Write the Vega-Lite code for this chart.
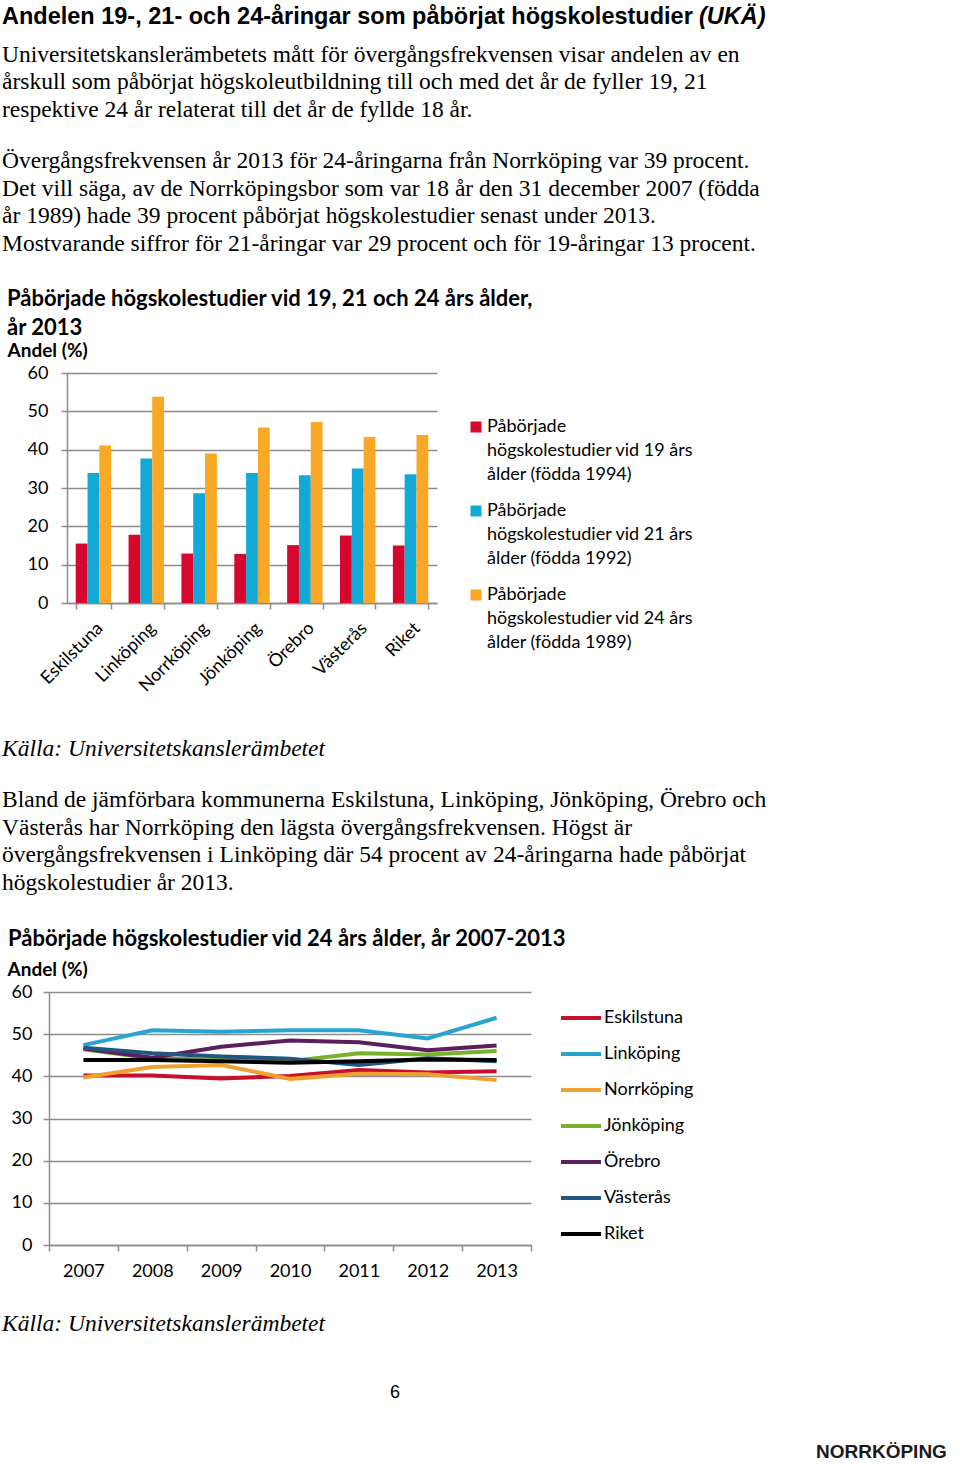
{
  "$schema": "https://vega.github.io/schema/vega-lite/v6.json",
  "padding": {"left": 2, "top": 4, "right": 0, "bottom": 0},
  "background": "white",
  "spacing": 0,
  "resolve": {"scale": {"color": "independent"}, "legend": {"color": "independent"}},
  "datasets": {
    "bars": [
      {"kommun": "Eskilstuna", "grupp": "Påbörjade högskolestudier vid 19 års ålder (födda 1994)", "andel": 15.5},
      {"kommun": "Eskilstuna", "grupp": "Påbörjade högskolestudier vid 21 års ålder (födda 1992)", "andel": 33.9},
      {"kommun": "Eskilstuna", "grupp": "Påbörjade högskolestudier vid 24 års ålder (födda 1989)", "andel": 41.1},
      {"kommun": "Linköping", "grupp": "Påbörjade högskolestudier vid 19 års ålder (födda 1994)", "andel": 17.8},
      {"kommun": "Linköping", "grupp": "Påbörjade högskolestudier vid 21 års ålder (födda 1992)", "andel": 37.7},
      {"kommun": "Linköping", "grupp": "Påbörjade högskolestudier vid 24 års ålder (födda 1989)", "andel": 53.8},
      {"kommun": "Norrköping", "grupp": "Påbörjade högskolestudier vid 19 års ålder (födda 1994)", "andel": 12.9},
      {"kommun": "Norrköping", "grupp": "Påbörjade högskolestudier vid 21 års ålder (födda 1992)", "andel": 28.6},
      {"kommun": "Norrköping", "grupp": "Påbörjade högskolestudier vid 24 års ålder (födda 1989)", "andel": 39.0},
      {"kommun": "Jönköping", "grupp": "Påbörjade högskolestudier vid 19 års ålder (födda 1994)", "andel": 12.8},
      {"kommun": "Jönköping", "grupp": "Påbörjade högskolestudier vid 21 års ålder (födda 1992)", "andel": 33.9},
      {"kommun": "Jönköping", "grupp": "Påbörjade högskolestudier vid 24 års ålder (födda 1989)", "andel": 45.8},
      {"kommun": "Örebro", "grupp": "Påbörjade högskolestudier vid 19 års ålder (födda 1994)", "andel": 15.1},
      {"kommun": "Örebro", "grupp": "Påbörjade högskolestudier vid 21 års ålder (födda 1992)", "andel": 33.3},
      {"kommun": "Örebro", "grupp": "Påbörjade högskolestudier vid 24 års ålder (födda 1989)", "andel": 47.2},
      {"kommun": "Västerås", "grupp": "Påbörjade högskolestudier vid 19 års ålder (födda 1994)", "andel": 17.6},
      {"kommun": "Västerås", "grupp": "Påbörjade högskolestudier vid 21 års ålder (födda 1992)", "andel": 35.1},
      {"kommun": "Västerås", "grupp": "Påbörjade högskolestudier vid 24 års ålder (födda 1989)", "andel": 43.3},
      {"kommun": "Riket", "grupp": "Påbörjade högskolestudier vid 19 års ålder (födda 1994)", "andel": 15.0},
      {"kommun": "Riket", "grupp": "Påbörjade högskolestudier vid 21 års ålder (födda 1992)", "andel": 33.6},
      {"kommun": "Riket", "grupp": "Påbörjade högskolestudier vid 24 års ålder (födda 1989)", "andel": 43.8}
    ],
    "lines": [
      {"kommun": "Eskilstuna", "ar": 2007, "andel": 40.2},
      {"kommun": "Eskilstuna", "ar": 2008, "andel": 40.2},
      {"kommun": "Eskilstuna", "ar": 2009, "andel": 39.5},
      {"kommun": "Eskilstuna", "ar": 2010, "andel": 40.1},
      {"kommun": "Eskilstuna", "ar": 2011, "andel": 41.5},
      {"kommun": "Eskilstuna", "ar": 2012, "andel": 40.9},
      {"kommun": "Eskilstuna", "ar": 2013, "andel": 41.2},
      {"kommun": "Linköping", "ar": 2007, "andel": 47.4},
      {"kommun": "Linköping", "ar": 2008, "andel": 50.9},
      {"kommun": "Linköping", "ar": 2009, "andel": 50.6},
      {"kommun": "Linköping", "ar": 2010, "andel": 50.9},
      {"kommun": "Linköping", "ar": 2011, "andel": 50.9},
      {"kommun": "Linköping", "ar": 2012, "andel": 49.0},
      {"kommun": "Linköping", "ar": 2013, "andel": 53.9},
      {"kommun": "Norrköping", "ar": 2007, "andel": 39.7},
      {"kommun": "Norrköping", "ar": 2008, "andel": 42.2},
      {"kommun": "Norrköping", "ar": 2009, "andel": 42.7},
      {"kommun": "Norrköping", "ar": 2010, "andel": 39.4},
      {"kommun": "Norrköping", "ar": 2011, "andel": 40.6},
      {"kommun": "Norrköping", "ar": 2012, "andel": 40.5},
      {"kommun": "Norrköping", "ar": 2013, "andel": 39.1},
      {"kommun": "Jönköping", "ar": 2007, "andel": 46.4},
      {"kommun": "Jönköping", "ar": 2008, "andel": 44.2},
      {"kommun": "Jönköping", "ar": 2009, "andel": 44.0},
      {"kommun": "Jönköping", "ar": 2010, "andel": 43.6},
      {"kommun": "Jönköping", "ar": 2011, "andel": 45.5},
      {"kommun": "Jönköping", "ar": 2012, "andel": 45.2},
      {"kommun": "Jönköping", "ar": 2013, "andel": 46.0},
      {"kommun": "Örebro", "ar": 2007, "andel": 46.6},
      {"kommun": "Örebro", "ar": 2008, "andel": 44.4},
      {"kommun": "Örebro", "ar": 2009, "andel": 47.0},
      {"kommun": "Örebro", "ar": 2010, "andel": 48.5},
      {"kommun": "Örebro", "ar": 2011, "andel": 48.1},
      {"kommun": "Örebro", "ar": 2012, "andel": 46.2},
      {"kommun": "Örebro", "ar": 2013, "andel": 47.3},
      {"kommun": "Västerås", "ar": 2007, "andel": 46.8},
      {"kommun": "Västerås", "ar": 2008, "andel": 45.5},
      {"kommun": "Västerås", "ar": 2009, "andel": 44.7},
      {"kommun": "Västerås", "ar": 2010, "andel": 44.2},
      {"kommun": "Västerås", "ar": 2011, "andel": 42.7},
      {"kommun": "Västerås", "ar": 2012, "andel": 44.3},
      {"kommun": "Västerås", "ar": 2013, "andel": 43.6},
      {"kommun": "Riket", "ar": 2007, "andel": 43.9},
      {"kommun": "Riket", "ar": 2008, "andel": 43.9},
      {"kommun": "Riket", "ar": 2009, "andel": 43.6},
      {"kommun": "Riket", "ar": 2010, "andel": 43.2},
      {"kommun": "Riket", "ar": 2011, "andel": 43.6},
      {"kommun": "Riket", "ar": 2012, "andel": 44.0},
      {"kommun": "Riket", "ar": 2013, "andel": 43.9}
    ]
  },
  "vconcat": [
    {
      "spacing": 6,
      "hconcat": [
        {
          "data": {"values": []}, "mark": "point", "width": 1, "height": 10,
          "title": {
            "text": "Andelen 19-, 21- och 24-åringar som påbörjat högskolestudier",
            "font": "Liberation Sans", "fontSize": 23.5, "fontWeight": "bold"
          }
        },
        {
          "data": {"values": []}, "mark": "point", "width": 1, "height": 10,
          "title": {
            "text": "(UKÄ)",
            "font": "Liberation Sans", "fontSize": 23.5, "fontWeight": "bold", "fontStyle": "italic"
          }
        }
      ]
    },
    {
      "data": {"values": []}, "mark": "point", "width": 1, "height": 23.5,
      "title": {
        "text": [
          "Universitetskanslerämbetets mått för övergångsfrekvensen visar andelen av en",
          "årskull som påbörjat högskoleutbildning till och med det år de fyller 19, 21",
          "respektive 24 år relaterat till det år de fyllde 18 år."
        ],
        "font": "Liberation Serif", "fontSize": 23.5, "fontWeight": "normal", "lineHeight": 27.5
      }
    },
    {
      "data": {"values": []}, "mark": "point", "width": 1, "height": 29,
      "title": {
        "text": [
          "Övergångsfrekvensen år 2013 för 24-åringarna från Norrköping var 39 procent.",
          "Det vill säga, av de Norrköpingsbor som var 18 år den 31 december 2007 (födda",
          "år 1989) hade 39 procent påbörjat högskolestudier senast under 2013.",
          "Mostvarande siffror för 21-åringar var 29 procent och för 19-åringar 13 procent."
        ],
        "font": "Liberation Serif", "fontSize": 23.5, "fontWeight": "normal", "lineHeight": 27.5
      }
    },
    {
      "spacing": 0,
      "resolve": {"scale": {"color": "independent"}, "legend": {"color": "independent"}},
      "hconcat": [
        {"data": {"values": []}, "mark": "point", "width": 5, "height": 1},
        {
          "data": {"name": "bars"},
          "width": 370, "height": 230,
          "title": {
            "text": ["Påbörjade högskolestudier vid 19, 21 och 24 års ålder,", "år 2013"],
            "frame": "bounds", "anchor": "start", "offset": 1,
            "font": "Lato", "fontSize": 22, "fontWeight": "bold", "lineHeight": 29
          },
          "mark": {"type": "bar"},
          "encoding": {
            "x": {
              "field": "kommun", "type": "nominal", "sort": null,
              "scale": {"paddingInner": 0.33, "paddingOuter": 0.165},
              "axis": {"title": null, "labelAngle": -45, "tickBand": "extent", "labelPadding": 10}
            },
            "xOffset": {"field": "grupp", "type": "nominal", "sort": null, "scale": {"paddingInner": 0, "paddingOuter": 0}},
            "y": {
              "field": "andel", "type": "quantitative",
              "scale": {"domain": [0, 60], "nice": false},
              "axis": {
                "title": "Andel (%)", "titleAngle": 0, "titleX": -60, "titleY": -23,
                "titleAlign": "left", "titleBaseline": "middle",
                "values": [0, 10, 20, 30, 40, 50, 60], "labelPadding": 13, "grid": true
              }
            },
            "color": {
              "field": "grupp", "type": "nominal", "sort": null,
              "scale": {"range": ["#d7062c", "#12a9d6", "#f9a825"]},
              "legend": {
                "orient": "none", "legendX": 400, "legendY": 45, "title": null, "padding": 0,
                "symbolType": "square", "symbolSize": 121, "symbolStrokeWidth": 0,
                "labelExpr": "split(replace(replace(datum.label, ' högskolestudier', '|högskolestudier'), ' ålder', '|ålder'), '|')",
                "labelFont": "Lato", "labelFontSize": 18, "labelColor": "#000", "labelLimit": 0,
                "labelOffset": 2, "rowPadding": 18
              }
            }
          }
        }
      ]
    },
    {"data": {"values": []}, "mark": "point", "width": 1, "height": 41},
    {
      "data": {"values": []}, "mark": "point", "width": 1, "height": 24,
      "title": {
        "text": "Källa: Universitetskanslerämbetet",
        "font": "Liberation Serif", "fontSize": 23.5, "fontWeight": "normal", "fontStyle": "italic"
      }
    },
    {
      "data": {"values": []}, "mark": "point", "width": 1, "height": 30,
      "title": {
        "text": [
          "Bland de jämförbara kommunerna Eskilstuna, Linköping, Jönköping, Örebro och",
          "Västerås har Norrköping den lägsta övergångsfrekvensen. Högst är",
          "övergångsfrekvensen i Linköping där 54 procent av 24-åringarna hade påbörjat",
          "högskolestudier år 2013."
        ],
        "font": "Liberation Serif", "fontSize": 23.5, "fontWeight": "normal", "lineHeight": 27.5
      }
    },
    {
      "spacing": 0,
      "resolve": {"scale": {"color": "independent"}, "legend": {"color": "independent"}},
      "hconcat": [
        {"data": {"values": []}, "mark": "point", "width": 5, "height": 1},
        {
          "data": {"name": "lines"},
          "width": 482, "height": 253,
          "title": {
            "text": "Påbörjade högskolestudier vid 24 års ålder, år 2007-2013",
            "frame": "bounds", "anchor": "start", "offset": 9, "dx": 1,
            "font": "Lato", "fontSize": 22, "fontWeight": "bold"
          },
          "mark": {"type": "line", "strokeWidth": 4},
          "encoding": {
            "x": {
              "field": "ar", "type": "ordinal", "bandPosition": 0.5,
              "scale": {"type": "band", "paddingInner": 0, "paddingOuter": 0},
              "axis": {"title": null, "labelAngle": 0, "tickBand": "extent", "labelPadding": 11}
            },
            "y": {
              "field": "andel", "type": "quantitative",
              "scale": {"domain": [0, 60], "nice": false},
              "axis": {
                "title": "Andel (%)", "titleAngle": 0, "titleX": -42, "titleY": -23,
                "titleAlign": "left", "titleBaseline": "middle",
                "values": [0, 10, 20, 30, 40, 50, 60], "labelPadding": 11, "grid": true
              }
            },
            "color": {
              "field": "kommun", "type": "nominal",
              "scale": {
                "domain": ["Eskilstuna", "Linköping", "Norrköping", "Jönköping", "Örebro", "Västerås", "Riket"],
                "range": ["#c8102e", "#27a4d0", "#f0a030", "#79b22a", "#5c1e5f", "#23557e", "#000000"]
              },
              "legend": {
                "orient": "none", "legendX": 510, "legendY": 8, "title": null, "padding": 0,
                "symbolType": "stroke", "symbolSize": 1600, "symbolStrokeWidth": 4, "clipHeight": 36,
                "rowPadding": 0, "labelOffset": 1,
                "labelFont": "Lato", "labelFontSize": 18, "labelColor": "#000", "labelLimit": 0
              }
            }
          }
        }
      ]
    },
    {"data": {"values": []}, "mark": "point", "width": 1, "height": 31},
    {
      "data": {"values": []}, "mark": "point", "width": 1, "height": 45,
      "title": {
        "text": "Källa: Universitetskanslerämbetet",
        "font": "Liberation Serif", "fontSize": 23.5, "fontWeight": "normal", "fontStyle": "italic"
      }
    },
    {
      "data": {"values": []}, "mark": "point", "width": 1, "height": 37,
      "title": {
        "text": "6", "font": "Liberation Sans", "fontSize": 18, "fontWeight": "normal", "dx": 388
      }
    },
    {
      "data": {"values": []}, "mark": "point", "width": 1, "height": 1,
      "title": {
        "text": "NORRKÖPING", "font": "Liberation Sans", "fontSize": 19, "fontWeight": "bold", "dx": 814, "color": "#1a1a1a"
      }
    }
  ],
  "config": {
    "view": {"stroke": null},
    "font": "Lato",
    "style": {"guide-label": {"lineHeight": 24}},
    "title": {"anchor": "start", "frame": "group", "offset": 0, "color": "#000", "subtitleColor": "#000"},
    "axis": {
      "domainColor": "#8c8c8c", "domainWidth": 1.5,
      "tickColor": "#8c8c8c", "tickWidth": 1.5, "tickSize": 6,
      "gridColor": "#8c8c8c", "gridWidth": 1.5,
      "labelFont": "Lato", "labelFontSize": 18, "labelColor": "#000",
      "titleFont": "Lato", "titleFontSize": 19, "titleFontWeight": "bold", "titleColor": "#000"
    }
  }
}
